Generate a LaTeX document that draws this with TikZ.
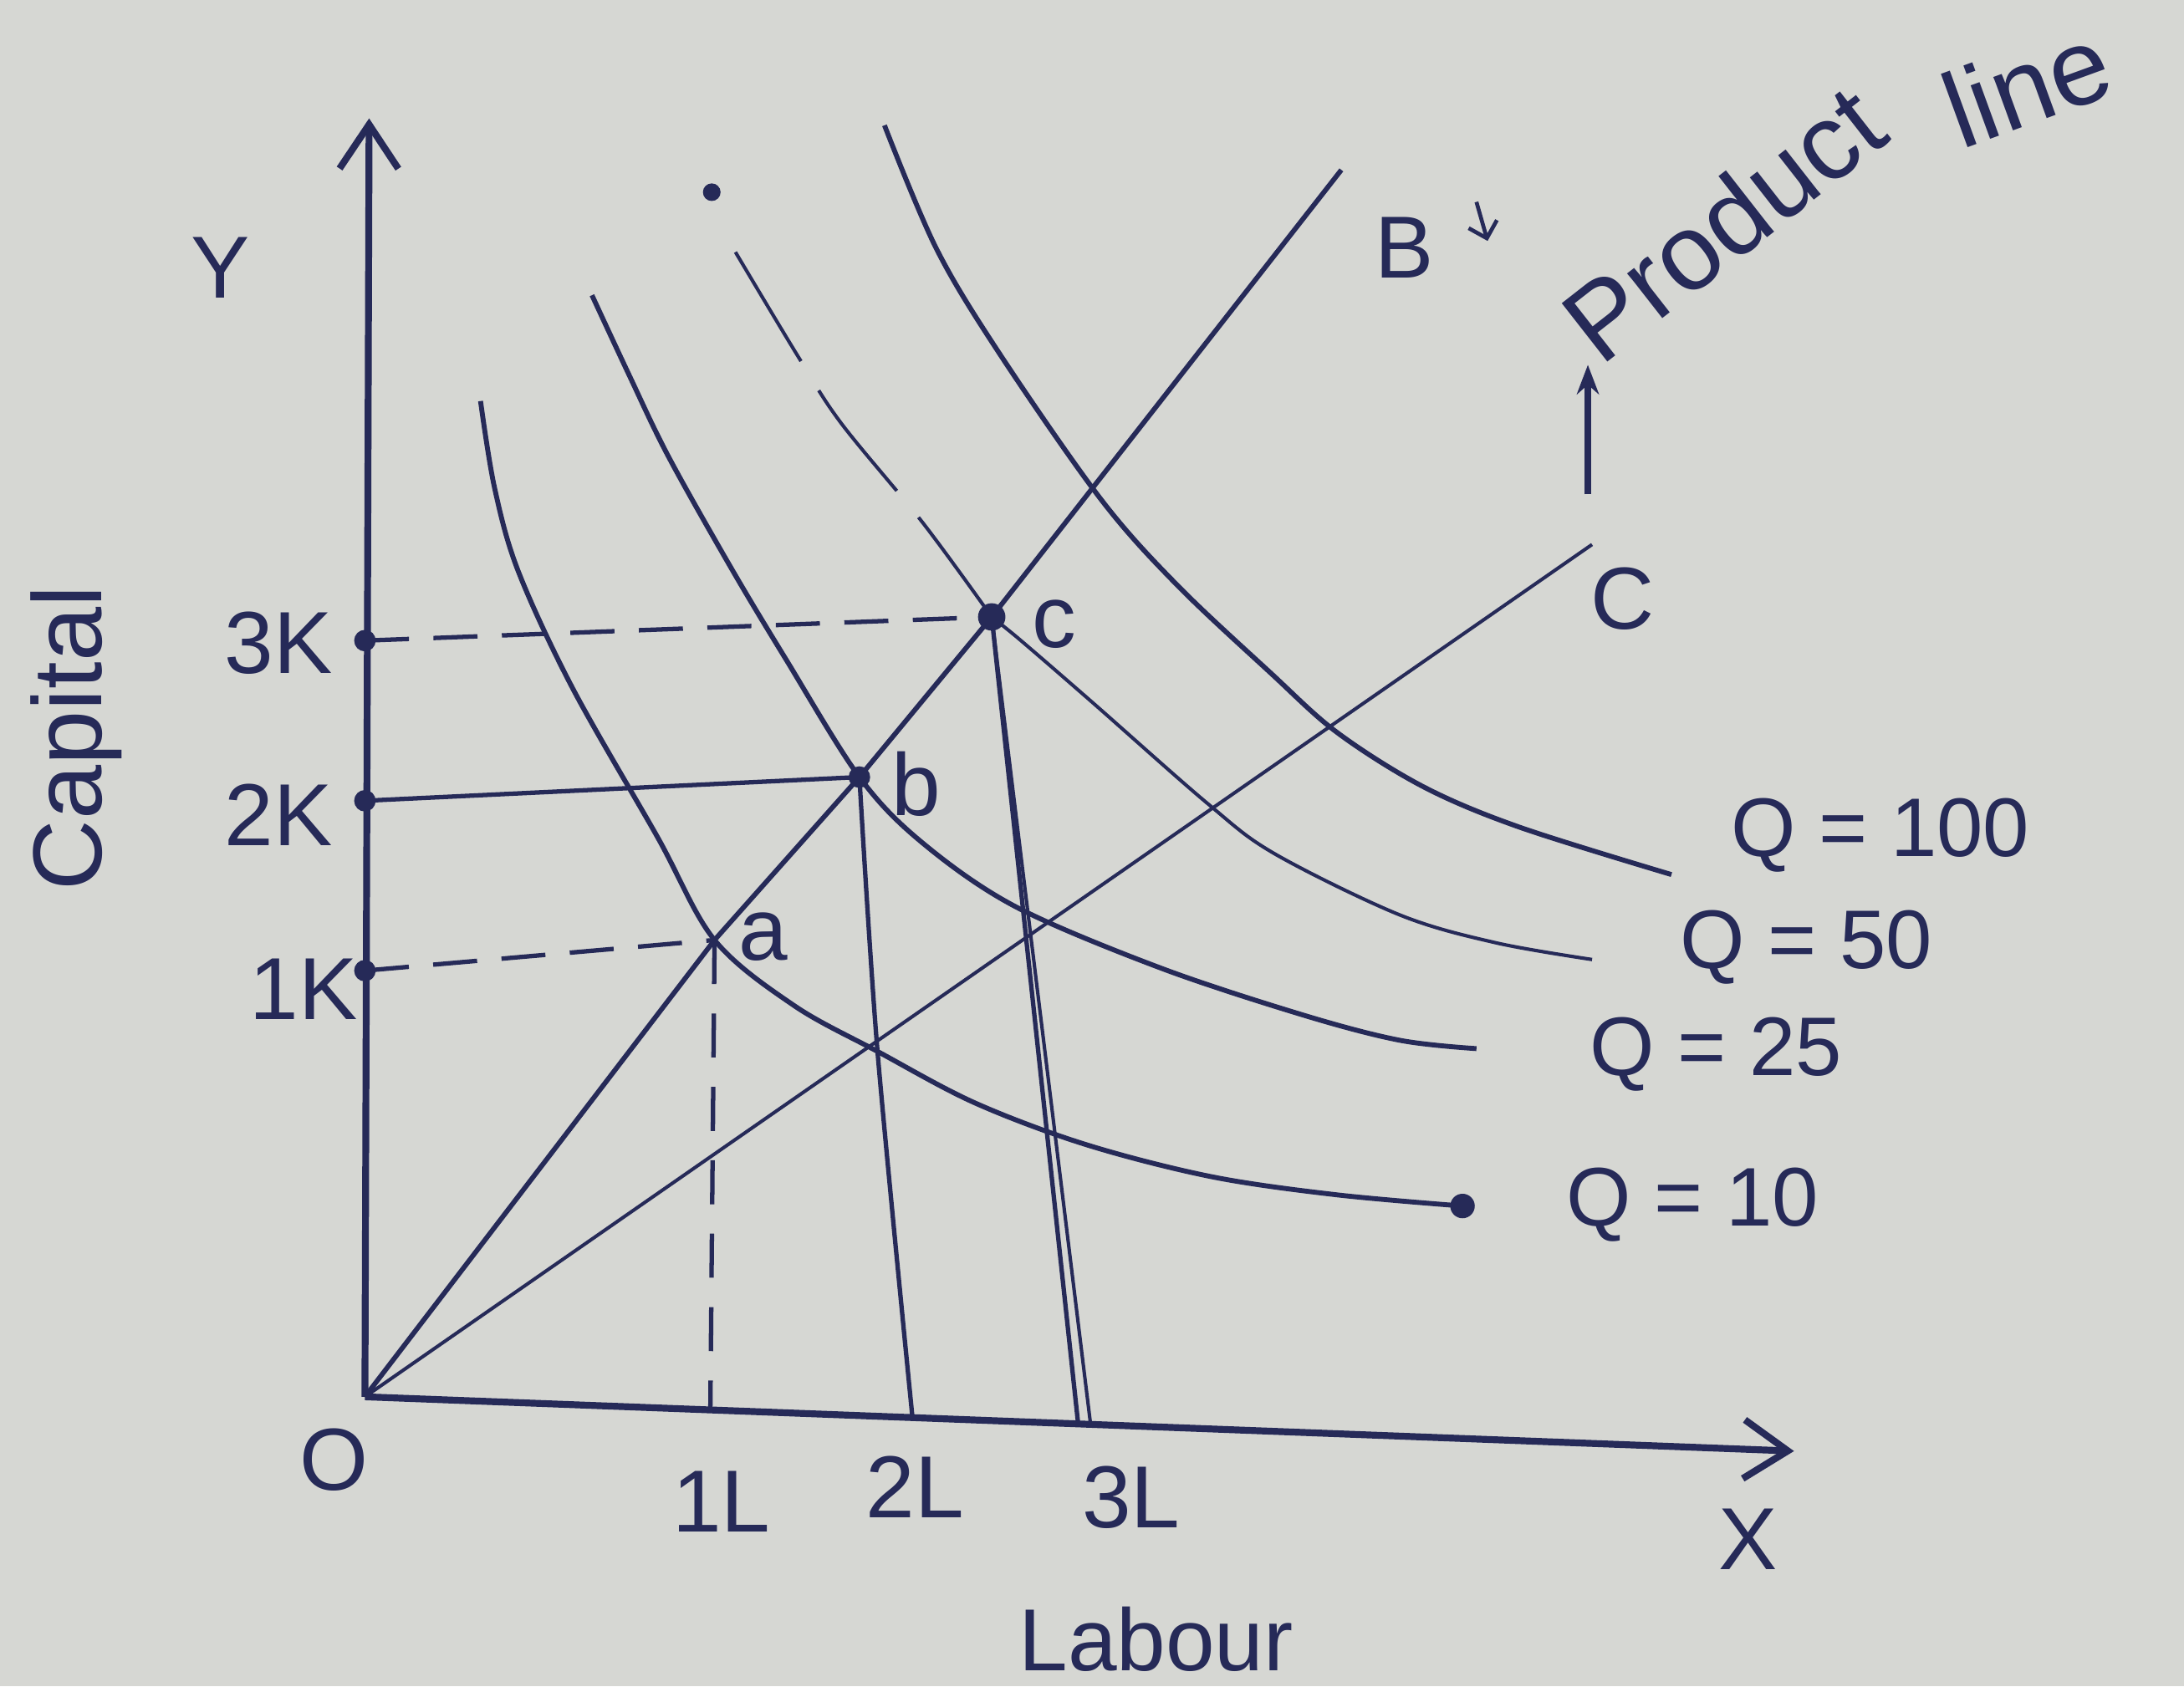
\documentclass[tikz,border=0pt]{standalone}
\usepackage{fontspec}
\setmainfont{Liberation Sans}
\usetikzlibrary{arrows.meta}
\definecolor{ink}{RGB}{38,42,88}
\definecolor{paper}{RGB}{214,215,211}
\tikzset{
  axis/.style={ink,line width=1.4pt,-{Straight Barb[length=9pt,width=12pt,line width=1.4pt]}},
  iso/.style={ink,line width=1pt},
  thiniso/.style={ink,line width=0.7pt},
  guide/.style={ink,line width=0.9pt},
  lbl/.style={text=ink,font=\fontsize{18}{21}\selectfont,inner sep=1pt},
  qlbl/.style={text=ink,font=\fontsize{17}{20}\selectfont,inner sep=1pt},
}

\begin{document}
\begin{tikzpicture}[x=1cm,y=1cm]
\fill[paper] (-2.62,-2.08) rectangle (13.06,10.03);
\coordinate (O) at (0,0);
\coordinate (ytop) at (0.03,9.18);
\coordinate (xend) at (10.26,-0.39);
\draw[axis] (O) -- (ytop);
\draw[axis] (O) -- (xend);
\coordinate (a) at (2.51,3.28);
\coordinate (b) at (3.55,4.45);
\coordinate (c) at (4.50,5.60);
\coordinate (Bend) at (7.01,8.81);
\coordinate (Cend) at (8.81,6.12);
\coordinate (k1) at (0,3.06);
\coordinate (k2) at (0,4.28);
\coordinate (k3) at (0,5.43);
\coordinate (l1) at (2.48,-0.09);
\coordinate (l2) at (3.93,-0.14);
\coordinate (l3) at (5.12,-0.19);
\coordinate (l3b) at (5.21,-0.20);
\foreach \k in {k1,k2,k3} {\fill[ink] (\k) circle (2.2pt);}
\draw[iso] (O) -- (a) -- (b) -- (c) -- (Bend);
\draw[thiniso] (O) -- (Cend);
\draw[guide,dash pattern=on 9pt off 5pt] (k1) -- (a);
\draw[guide] (k2) -- (b);
\draw[guide,dash pattern=on 9pt off 5pt] (k3) -- (c);
\draw[guide,dash pattern=on 9pt off 6pt] (a) -- (l1);
\draw[guide] plot[smooth] coordinates {(b) (3.68,2.48) (l2)};
\draw[guide] (c) -- (l3);
\draw[thiniso] (c) -- (l3b);
\draw[iso] plot[smooth,tension=0.55] coordinates {(0.83,7.15) (0.93,6.53) (1.10,5.93) (1.49,5.09) (2.10,4.02) (a) (3.08,2.81) (3.68,2.48) (4.38,2.11) (5.18,1.81) (6.08,1.58) (6.98,1.45) (7.88,1.37)};
\fill[ink] (7.88,1.37) circle (2.5pt);
\draw[iso] plot[smooth,tension=0.55] coordinates {(1.63,7.91) (1.90,7.33) (2.18,6.75) (2.63,5.95) (3.02,5.30) (b) (4.00,3.98) (4.67,3.52) (5.71,3.08) (6.74,2.74) (7.43,2.56) (7.98,2.50)};
\fill[ink] (2.49,8.65) circle (1.8pt);
\draw[thiniso,dash pattern=on 26pt off 7pt] plot[smooth,tension=0.55] coordinates {(2.66,8.22) (3.11,7.47) (3.42,6.99) (4.01,6.27) (c)};
\draw[thiniso] plot[smooth,tension=0.55] coordinates {(c) (4.71,5.43) (5.23,4.98) (6.05,4.26) (6.53,3.90) (7.43,3.46) (8.12,3.26) (8.81,3.14)};
\draw[iso] plot[smooth,tension=0.55] coordinates {(3.73,9.13) (4.10,8.25) (4.55,7.50) (5.28,6.45) (5.83,5.83) (6.50,5.20) (6.98,4.77) (7.60,4.38) (8.29,4.09) (9.38,3.75)};
\fill[ink] (b) circle (2.2pt);
\fill[ink] (c) circle (2.8pt);
\node[lbl] (Ylab) at (-1.04,8.11) {Y};
\node[lbl,font=\fontsize{20}{24}\selectfont,rotate=90] (caplab) at (-2.07,4.73) {Capital};
\node[lbl] (k3lab) at (-0.62,5.41) {3K};
\node[lbl] (k2lab) at (-0.62,4.18) {2K};
\node[lbl] (k1lab) at (-0.44,2.93) {1K};
\node[lbl] (Olab) at (-0.22,-0.45) {O};
\node[lbl] (l1lab) at (2.56,-0.75) {1L};
\node[lbl] (l2lab) at (3.95,-0.65) {2L};
\node[lbl] (l3lab) at (5.50,-0.72) {3L};
\node[lbl] (Xlab) at (9.93,-1.02) {X};
\node[lbl] (lablab) at (5.68,-1.74) {Labour};
\node[lbl] (alab) at (2.86,3.30) {a};
\node[lbl] (blab) at (3.96,4.40) {b};
\node[lbl] (clab) at (4.95,5.55) {c};
\node[lbl] (Blab) at (7.46,8.25) {B};
\coordinate (bar0) at (7.98,8.58);
\coordinate (bar1) at (8.06,8.30);
\draw[ink,line width=0.8pt,-{Straight Barb[length=3pt]}] (bar0) -- (bar1);
\node[lbl,font=\fontsize{22}{26}\selectfont,rotate=38] (prodlab) at (9.75,8.43) {Product};
\node[lbl,font=\fontsize{22}{26}\selectfont,rotate=20] (linelab) at (11.93,9.42) {line};
\node[lbl] (Clab) at (9.03,5.73) {C};
\coordinate (up0) at (8.78,6.48);
\coordinate (up1) at (8.78,7.41);
\draw[ink,line width=1.3pt,-{Stealth[length=6pt]}] (up0) -- (up1);
\node[qlbl] (q100) at (10.88,4.03) {Q = 100};
\node[qlbl] (q50) at (10.35,3.23) {Q = 50};
\node[qlbl] (q25) at (9.70,2.46) {Q = 25};
\node[qlbl] (q10) at (9.53,1.38) {Q = 10};
\end{tikzpicture}
\end{document}
